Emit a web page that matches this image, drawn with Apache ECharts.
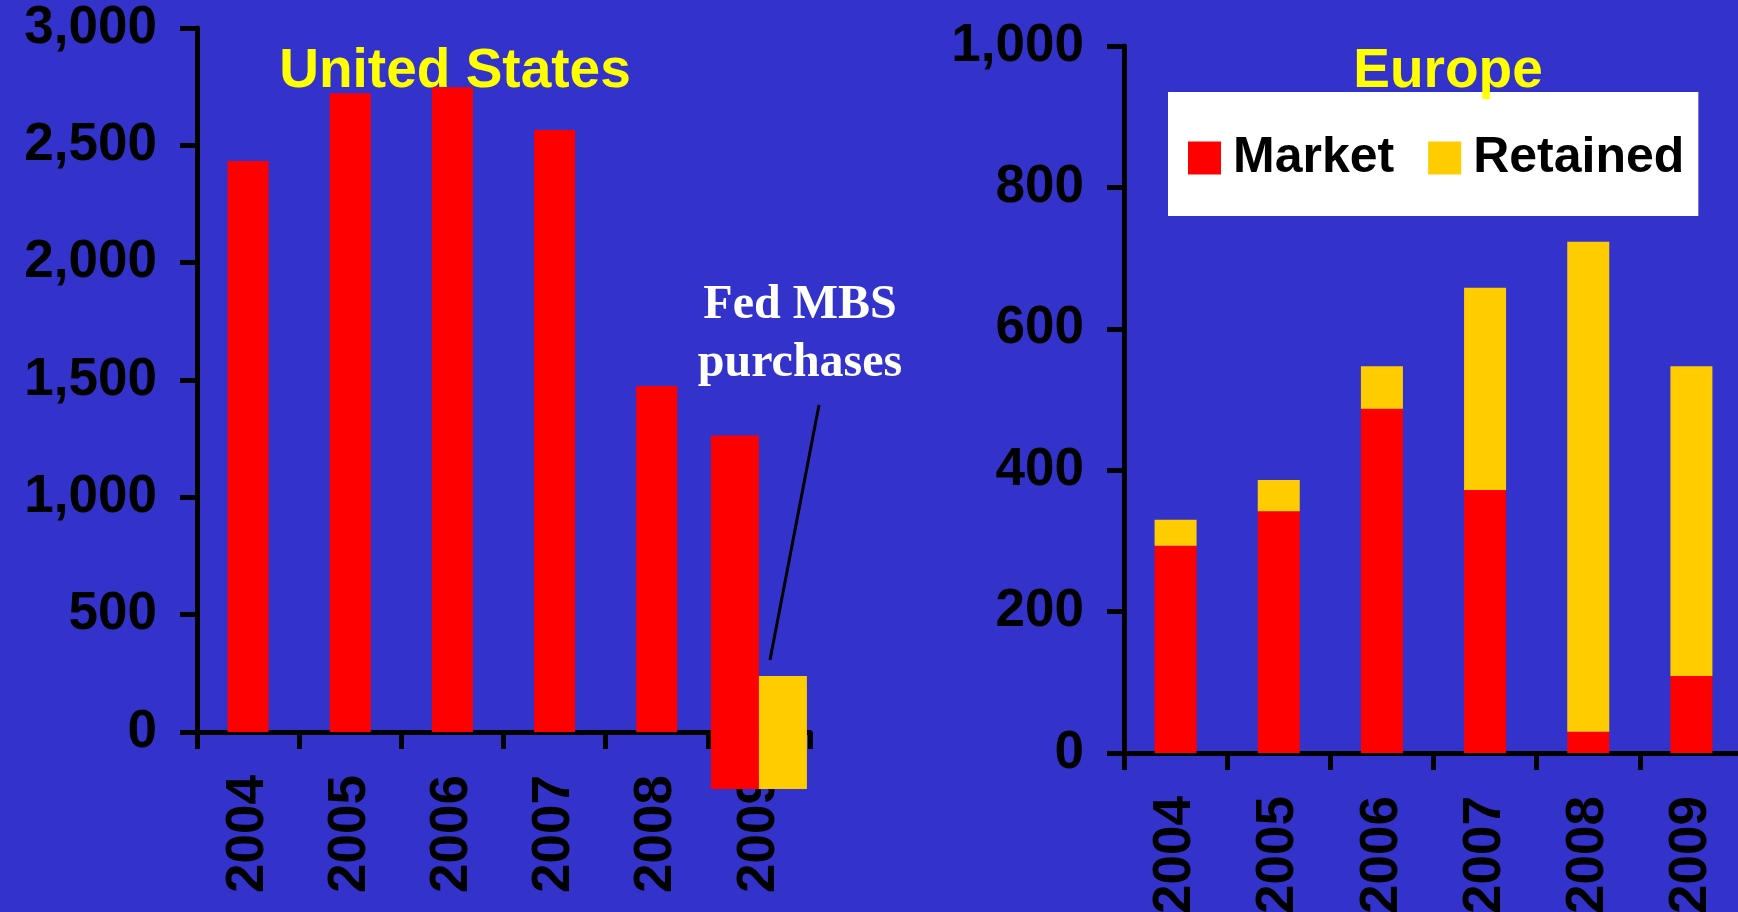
<!DOCTYPE html>
<html>
<head>
<meta charset="utf-8">
<script src="https://cdn.jsdelivr.net/npm/echarts@6/dist/echarts.min.js"></script>
<style>
  html, body { margin: 0; padding: 0; background: #3333cc; }
  #chart { width: 1738px; height: 912px; }
</style>
</head>
<body>
<div id="chart"></div>
<script>
// values (billions)
const years = ['2004', '2005', '2006', '2007', '2008', '2009']
const usIssuance = [2433, 2722, 2747, 2565, 1474, 1263]
const fedMbsPurchases = [0, 0, 0, 0, 0, 239]
const fedBelowZero = [0, 0, 0, 0, 0, -243]
const euMarket = [293, 342, 487, 372, 30, 109]
const euRetained = [37, 44, 60, 286, 693, 438]
const usTicks = { min: 0, max: 3000, interval: 500 }
const euTicks = { min: 0, max: 1000, interval: 200 }

const RED = '#ff0000'
const GOLD = '#ffcc00'
const FONT = '"Liberation Sans", Arial, sans-serif'

const chart = echarts.init(document.getElementById('chart'))

// 2009 in the US panel is drawn as its own pair of bars
const fedYear = fedMbsPurchases.map((v) => v > 0)
const usMain = usIssuance.map((v, i) => (fedYear[i] ? '-' : v))
const usPairTop = usIssuance.map((v, i) => (fedYear[i] ? v : '-'))
const pairBelow = fedBelowZero.map((v, i) => (fedYear[i] ? v : '-'))
const fedTop = fedMbsPurchases.map((v, i) => (fedYear[i] ? v : '-'))

function fmt(v) {
  return Number(v).toLocaleString('en-US')
}

function valueAxis(gridIndex, ticks) {
  return {
    type: 'value',
    gridIndex,
    min: ticks.min,
    max: ticks.max,
    interval: ticks.interval,
    splitLine: { show: false },
    axisLine: { show: true, lineStyle: { color: '#000', width: 5 } },
    axisTick: { show: true, length: 17, lineStyle: { color: '#000', width: 5 } },
    axisLabel: {
      color: '#000',
      fontFamily: FONT,
      fontWeight: 'bold',
      fontSize: 53,
      margin: 40,
      formatter: fmt,
    },
  }
}

function catAxis(gridIndex, show) {
  return {
    type: 'category',
    gridIndex,
    data: years,
    show,
    axisLine: { show: true, lineStyle: { color: '#000', width: 5 } },
    axisTick: { show: true, length: 17, lineStyle: { color: '#000', width: 5 } },
    axisLabel: {
      color: '#000',
      fontFamily: FONT,
      fontWeight: 'bold',
      fontSize: 53,
      rotate: 90,
      margin: 43,
    },
  }
}

const titleStyle = { color: '#ffff00', fontFamily: FONT, fontWeight: 'bold', fontSize: 55 }

chart.setOption({
  backgroundColor: '#3333cc',
  animation: false,
  title: [
    { text: 'United States', left: 450, top: 39, textAlign: 'center', textStyle: titleStyle },
    { text: 'Europe', left: 1443, top: 39, textAlign: 'center', textStyle: titleStyle },
  ],
  legend: {
    data: ['Market', 'Retained'],
    left: 1168,
    top: 92,
    orient: 'horizontal',
    backgroundColor: '#ffffff',
    padding: [41, 14, 33, 20],
    itemWidth: 33,
    itemHeight: 33,
    itemGap: 34,
    icon: 'rect',
    textStyle: {
      color: '#000',
      fontFamily: FONT,
      fontWeight: 'bold',
      fontSize: 50,
      padding: [0, 0, 0, 7],
    },
  },
  grid: [
    { left: 197, top: 28, width: 613, height: 704, outerBoundsMode: 'none' },
    { left: 1124, top: 46, width: 619, height: 707, outerBoundsMode: 'none' },
  ],
  xAxis: [catAxis(0, true), catAxis(0, false), catAxis(1, true)],
  yAxis: [valueAxis(0, usTicks), valueAxis(1, euTicks)],
  series: [
    {
      name: 'US',
      type: 'bar',
      xAxisIndex: 0,
      yAxisIndex: 0,
      data: usMain,
      barWidth: 41,
      itemStyle: { color: RED },
    },
    // 2009 pair: red issuance and Fed MBS purchases, both hanging below zero
    {
      name: 'US 2009 below',
      type: 'bar',
      xAxisIndex: 1,
      yAxisIndex: 0,
      stack: 'us09',
      data: pairBelow,
      barWidth: 48,
      barGap: '0%',
      clip: false,
      itemStyle: { color: RED },
    },
    {
      name: 'US 2009',
      type: 'bar',
      xAxisIndex: 1,
      yAxisIndex: 0,
      stack: 'us09',
      data: usPairTop,
      barWidth: 48,
      barGap: '0%',
      clip: false,
      itemStyle: { color: RED },
    },
    {
      name: 'Fed below',
      type: 'bar',
      xAxisIndex: 1,
      yAxisIndex: 0,
      stack: 'fed',
      data: pairBelow,
      barWidth: 48,
      barGap: '0%',
      clip: false,
      itemStyle: { color: GOLD },
    },
    {
      name: 'Fed MBS',
      type: 'bar',
      xAxisIndex: 1,
      yAxisIndex: 0,
      stack: 'fed',
      data: fedTop,
      barWidth: 48,
      barGap: '0%',
      clip: false,
      itemStyle: { color: GOLD },
    },
    {
      name: 'Market',
      type: 'bar',
      xAxisIndex: 2,
      yAxisIndex: 1,
      stack: 'eu',
      data: euMarket,
      barWidth: 42,
      itemStyle: { color: RED },
    },
    {
      name: 'Retained',
      type: 'bar',
      xAxisIndex: 2,
      yAxisIndex: 1,
      stack: 'eu',
      data: euRetained,
      barWidth: 42,
      itemStyle: { color: GOLD },
    },
  ],
  graphic: [
    {
      type: 'text',
      x: 800,
      y: 277,
      z: 10,
      style: {
        text: 'Fed MBS\npurchases',
        fill: '#ffffff',
        font: 'bold 48px "Liberation Serif", "Times New Roman", serif',
        lineHeight: 58,
        align: 'center',
        verticalAlign: 'top',
      },
    },
    {
      type: 'line',
      z: 10,
      shape: { x1: 819, y1: 405, x2: 770, y2: 660 },
      style: { stroke: '#000', lineWidth: 3 },
    },
  ],
})
</script>
</body>
</html>
